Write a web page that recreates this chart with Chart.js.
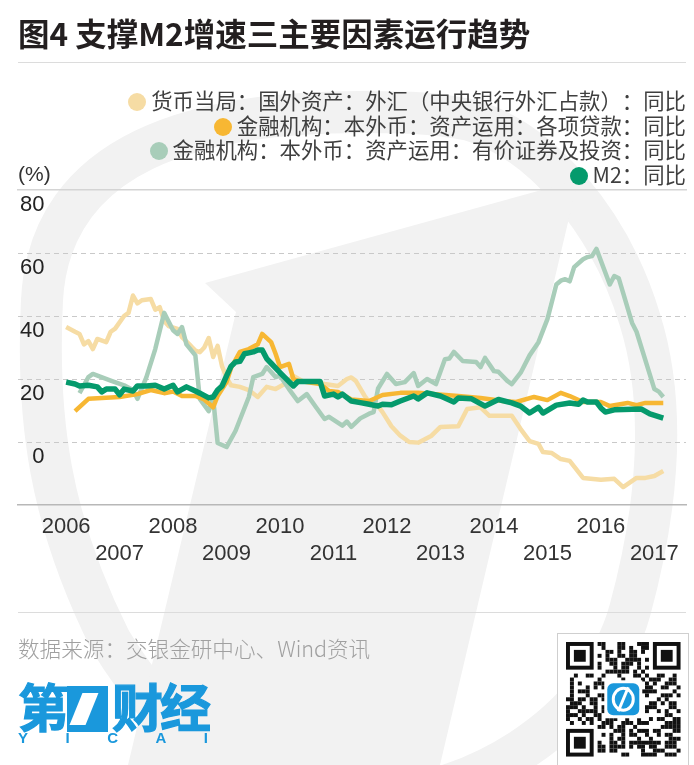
<!DOCTYPE html>
<html>
<head>
<meta charset="utf-8">
<script src="https://cdn.jsdelivr.net/npm/chart.js@4.4.0/dist/chart.umd.min.js"></script>
<style>
  html, body { margin: 0; padding: 0; background: #fff; }
  #page { position: relative; width: 694px; height: 765px; overflow: hidden;
          font-family: "Noto Sans CJK SC", "Noto Sans", sans-serif; text-spacing-trim: space-all; }
  #bg, #chart { position: absolute; left: 0; top: 0; }
  #title { position: absolute; left: 18px; top: 9px; font-size: 31.5px; font-weight: bold;
           color: #231f20; line-height: 46px; white-space: nowrap; }
  .rule { position: absolute; left: 18px; width: 668px; height: 1px; background: #dcdcdc; }
  #legend { position: absolute; right: 8px; top: 88px; text-align: right; font-size: 21.4px;
            line-height: 24.7px; color: #3f3f3f; }
  .item { white-space: nowrap; }
  .dot { display: inline-block; width: 18px; height: 18px; border-radius: 50%;
         margin-right: 5px; vertical-align: -2px; }
  #unit { position: absolute; left: 18px; top: 162px; font-size: 21px; color: #333;
          font-family: "Liberation Sans", Arial, sans-serif; }
  #source { position: absolute; left: 18px; top: 632px; font-size: 21.6px; color: #a0a0a0;
            white-space: nowrap; font-weight: 300; }
  #logo { position: absolute; left: 18px; top: 674px; color: #1a98dc; }
  #logo .cn { font-size: 51px; font-weight: bold; line-height: 62px; letter-spacing: -3px; white-space: nowrap;
              -webkit-text-stroke: 1.2px #1a98dc; }
  #logo .one { display: inline-block; position: relative; width: 41px; height: 46px; background: #1a98dc;
               vertical-align: -5px; margin: 0 4px 0 1px; }
  #logo .one::after { content: ""; position: absolute; left: 9px; top: 7px; width: 16px; height: 32px;
                      background: #fff; transform: skewX(-22deg); }
  #logo .en { display: flex; justify-content: space-between; width: 190px; font-family: "Liberation Sans", Arial;
              font-weight: bold; font-size: 15px; line-height: 14px; margin-top: -5px; }
  #qr { position: absolute; left: 557px; top: 633px; border: 1px solid #cfcfcf; background: #fff; }
</style>
</head>
<body>
<div id="page">
  <svg id="bg" width="694" height="765">
    <path d="M 360 112 C 200 112, 50 150, 42 300 C 36 420, 50 520, 110 640 C 170 740, 250 790, 330 800
             C 470 810, 600 720, 630 610 C 660 500, 665 400, 640 320 C 610 220, 540 140, 470 120
             C 430 112, 400 112, 360 112 Z" fill="none" stroke="#f2f2f2" stroke-width="42"/>
    <polygon points="205,283 578,180 440,765 128,765 236,312" fill="#f2f2f2"/>
  </svg>
  <canvas id="chart" width="694" height="765"></canvas>
  <div id="title">图4 支撑M2增速三主要因素运行趋势</div>
  <div class="rule" style="top:62px"></div>
  <div id="legend"></div>
  <div id="unit">(%)</div>
  <div class="rule" style="top:612px"></div>
  <div id="source">数据来源：交银金研中心、Wind资讯</div>
  <div id="logo">
    <div class="cn">第<span class="one"></span>财经</div>
    <div class="en"><span>Y</span><span>I</span><span>C</span><span>A</span><span>I</span></div>
  </div>
  <canvas id="qr" width="130" height="132"></canvas>
</div>
<script>
// series, monthly dates -> % y/y
const seriesLabels = [
  '货币当局：国外资产：外汇（中央银行外汇占款）：同比',
  '金融机构：本外币：资产运用：各项贷款：同比',
  '金融机构：本外币：资产运用：有价证券及投资：同比',
  'M2：同比'
];
const seriesColors = ['#f6dca4', '#f7b733', '#a8cdb9', '#059a6c'];

const fxDates = ['2006-01','2006-03','2006-04','2006-05','2006-06','2006-07','2006-08','2006-10','2006-11','2006-12',
  '2007-02','2007-03','2007-04','2007-05','2007-06','2007-08','2007-09','2007-10','2007-11','2007-12',
  '2008-02','2008-03','2008-05','2008-06','2008-07','2008-08','2008-09','2008-10','2008-11','2008-12',
  '2009-01','2009-02','2009-04','2009-06','2009-08','2009-10','2009-12','2010-02','2010-04','2010-06',
  '2010-09','2010-11','2011-02','2011-04','2011-05','2011-06','2011-08','2011-09','2011-11','2011-12',
  '2012-02','2012-04','2012-06','2012-08','2012-11','2013-01','2013-05','2013-07','2013-10','2013-12',
  '2014-05','2014-07','2014-09','2014-11','2014-12','2015-02','2015-04','2015-06','2015-09','2016-01',
  '2016-04','2016-06','2016-09','2016-11','2017-01','2017-03'];
const fxValues = [36.5,35,34.3,31,32,29.5,32.7,31.7,35,36,
  40,41,46.5,44,45,45.4,42,42.8,38.4,36.8,
  35.9,33.3,30.5,29,28.5,30,33,27,30.5,24,
  20.5,18,17.5,16.5,14.3,17.5,16.8,18.4,21,19.4,
  19,18.4,17.8,20,20.5,19.4,14.6,12.7,11.4,9.5,
  5,2,0,-0.2,2,4.8,5,10.5,11,8.3,
  8.3,4.1,0.3,-0.6,-3.2,-3.5,-5.4,-6,-11.4,-12,
  -11.7,-14.3,-11.4,-11.4,-10.8,-9.2];

const loanDates = ['2006-03','2006-06','2007-01','2007-05','2007-08','2007-11','2008-01','2008-03','2008-06','2008-08',
  '2008-10','2008-11','2008-12','2009-01','2009-02','2009-04','2009-06','2009-08','2009-09','2009-11',
  '2009-12','2010-01','2010-03','2010-04','2010-05','2010-10','2010-12','2011-02','2011-05','2011-09',
  '2011-12','2012-04','2012-08','2012-12','2013-05','2013-10','2014-03','2014-06','2014-10','2015-01',
  '2015-04','2015-06','2015-09','2016-01','2016-03','2016-07','2016-09','2016-11','2017-03'];
const loanValues = [9.8,13.7,14.3,15.2,16.5,15.5,16,14.6,14.6,13.5,
  11,14.6,16.8,19,23.5,28.6,29.5,31,34.3,31.7,
  28,23.8,24.8,20,19.4,18.4,16.2,15.9,13.5,13,
  14.9,15.6,15.6,15.2,14.6,14,13,12.7,14.3,13.3,
  15.6,14.6,12.7,12.7,11.4,12.4,11.7,12.4,12.4];

const secDates = ['2006-04','2006-06','2006-07','2006-11','2007-02','2007-04','2007-05','2007-07','2007-09','2007-11',
  '2008-01','2008-02','2008-03','2008-04','2008-06','2008-07','2008-09','2008-10','2008-11','2009-01',
  '2009-03','2009-06','2009-07','2009-09','2009-10','2009-12','2010-01','2010-03','2010-05','2010-07',
  '2010-09','2010-11','2010-12','2011-03','2011-04','2011-05','2011-07','2011-09','2011-10','2011-11',
  '2012-01','2012-03','2012-05','2012-07','2012-08','2012-10','2012-12','2013-02','2013-03','2013-04',
  '2013-06','2013-09','2013-10','2013-11','2014-01','2014-02','2014-04','2014-05','2014-07','2014-09',
  '2014-11','2015-01','2015-03','2015-04','2015-05','2015-06','2015-07','2015-09','2015-10','2015-11',
  '2015-12','2016-03','2016-04','2016-05','2016-08','2016-09','2017-01','2017-02','2017-03'];
const secValues = [15.5,20.6,21.6,19.5,18,16.5,13.7,20.5,29.5,41,
  35.5,34.3,36.5,31,27.5,13.7,9.8,13.7,-0.3,-1.6,
  3.5,14.3,20.6,21.6,23.8,20.6,21,16.8,13,15.2,
  11.2,7.3,8,5.2,6.5,4.8,7.5,9,9.5,17,
  21.6,18.4,19,21.9,17.8,20,18.4,26.3,26.5,28.6,
  25.7,25.4,23.8,26.7,22.5,22.3,19.4,18.4,22,27.5,
  31.7,39,50,51.2,51.7,51,55.5,58,58.7,59,
  61.3,50,52.7,52,37.8,35,16.8,16,14.3];

const m2Dates = ['2006-01','2006-03','2006-04','2006-06','2006-08','2006-09','2006-10','2006-12','2007-01','2007-02',
  '2007-04','2007-05','2007-07','2007-09','2007-11','2008-01','2008-02','2008-04','2008-06','2008-07',
  '2008-09','2008-10','2008-11','2008-12','2009-01','2009-02','2009-03','2009-04','2009-05','2009-06',
  '2009-07','2009-08','2009-09','2009-10','2009-11','2010-01','2010-02','2010-04','2010-05','2010-10',
  '2010-11','2011-01','2011-02','2011-03','2011-05','2011-07','2011-09','2011-11','2011-12','2012-02',
  '2012-04','2012-07','2012-08','2012-10','2013-01','2013-04','2013-05','2013-08','2013-11','2014-02',
  '2014-05','2014-07','2014-09','2014-11','2014-12','2015-03','2015-06','2015-08','2015-09','2015-10',
  '2015-12','2016-01','2016-02','2016-04','2016-10','2016-12','2017-03'];
const m2Values = [19,18.4,17.8,18,17.5,15.9,16.8,16.8,15,16.8,
  16.2,17.8,17.8,18,16.8,18,15.9,17.5,16.2,15.5,
  14,14.3,16.5,17.8,21,24,25.4,25.6,28,28.3,
  28.6,29.2,29.2,26.5,25,22,20.6,17.8,19.2,19.2,
  14.6,15.2,14.3,15.2,13,12.5,12,11.4,12,11.8,
  13,14.6,13.7,15.6,14.6,12.7,14,13.7,11.4,13.5,
  12.4,11.4,9.2,11,9.2,11.7,12.4,12,13.3,12.7,
  12.7,10.8,9.5,10.2,10.5,8.9,7.6];

const tickYears = ['2006','2007','2008','2009','2010','2011','2012','2013','2014','2015','2016','2017'];

function monthIndex(s) {
  const [y, m] = s.split('-').map(Number);
  return (y - 2006) * 12 + (m - 1);
}
function toPoints(dates, values) {
  return dates.map((d, i) => ({ x: monthIndex(d), y: values[i] }));
}

const allData = [toPoints(fxDates, fxValues), toPoints(loanDates, loanValues),
                 toPoints(secDates, secValues), toPoints(m2Dates, m2Values)];
const drawOrder = [3, 1, 2, 0];
const widths = [4.5, 4.5, 4.5, 5.5];

// html legend
const legendEl = document.getElementById('legend');
seriesLabels.forEach((lab, i) => {
  const row = document.createElement('div');
  row.className = 'item';
  row.innerHTML = '<span class="dot" style="background:' + seriesColors[i] + '"></span>' + lab;
  legendEl.appendChild(row);
});

const ctx = document.getElementById('chart').getContext('2d');
new Chart(ctx, {
  type: 'line',
  data: {
    datasets: seriesLabels.map((lab, i) => ({
      label: lab,
      data: allData[i],
      borderColor: seriesColors[i],
      borderWidth: widths[i],
      pointRadius: 0,
      tension: 0,
      fill: false,
      borderJoinStyle: 'round',
      order: drawOrder[i]
    }))
  },
  options: {
    responsive: false,
    animation: false,
    devicePixelRatio: 1,
    layout: { padding: { left: 18, right: 8, top: 190, bottom: 180 } },
    plugins: { legend: { display: false }, tooltip: { enabled: false } },
    scales: {
      x: {
        type: 'linear',
        min: -10.8,
        max: 139.1,
        afterBuildTicks: s => { s.ticks = tickYears.map((y, i) => ({ value: i * 12 })); },
        afterFit: s => { s.height = 80; },
        ticks: {
          autoSkip: false,
          maxRotation: 0,
          minRotation: 0,
          padding: 9,
          color: '#333',
          font: { family: 'Liberation Sans', size: 22 },
          callback: v => {
            const i = Math.round(v / 12);
            return i % 2 === 0 ? tickYears[i] : ['', tickYears[i]];
          }
        },
        grid: { display: false, drawTicks: false },
        border: { display: true, color: '#b8b8b8', width: 1.5 }
      },
      xTop: {
        type: 'linear',
        position: 'top',
        afterFit: s => { s.height = 0; },
        ticks: { display: false },
        grid: { display: false, drawTicks: false },
        border: { display: true, color: '#d4d4d4', width: 1.5 }
      },
      y: {
        min: -20,
        max: 80,
        afterFit: s => { s.width = 0; },
        ticks: {
          stepSize: 20,
          mirror: true,
          crossAlign: 'far',
          padding: 2,
          labelOffset: 15,
          color: '#222',
          font: { family: 'Liberation Sans', size: 22 },
          callback: v => (v === -20 ? '' : String(v))
        },
        grid: {
          drawTicks: false,
          color: c => (c.tick && (c.tick.value === 80 || c.tick.value === -20)) ? 'rgba(0,0,0,0)' : '#c9c9c9'
        },
        border: { display: false, dash: [5, 4] }
      }
    }
  }
});

// qr-like decoration
(function () {
  const c = document.getElementById('qr').getContext('2d');
  const n = 29, cell = 3.95, ox = 8, oy = 8;
  c.fillStyle = '#111';
  function hash(r, k) {
    let h = Math.imul(r + 11, 374761393) + Math.imul(k + 7, 668265263);
    h = Math.imul(h ^ (h >>> 13), 1274126177);
    return (h ^ (h >>> 16)) & 3;
  }
  function finder(r0, k0) {
    c.fillRect(ox + k0 * cell, oy + r0 * cell, 7 * cell, 7 * cell);
    c.fillStyle = '#fff';
    c.fillRect(ox + (k0 + 1) * cell, oy + (r0 + 1) * cell, 5 * cell, 5 * cell);
    c.fillStyle = '#111';
    c.fillRect(ox + (k0 + 2) * cell, oy + (r0 + 2) * cell, 3 * cell, 3 * cell);
  }
  for (let r = 0; r < n; r++) {
    for (let k = 0; k < n; k++) {
      const inFinder = (r < 8 && k < 8) || (r < 8 && k > n - 9) || (r > n - 9 && k < 8);
      if (inFinder) continue;
      if (hash(r, k) < 2) c.fillRect(ox + k * cell, oy + r * cell, cell, cell);
    }
  }
  finder(0, 0); finder(0, n - 7); finder(n - 7, 0);
  const cx = ox + n * cell / 2, cy = oy + n * cell / 2;
  c.fillStyle = '#fff';
  c.fillRect(cx - 19, cy - 19, 38, 38);
  c.fillStyle = '#1a98dc';
  c.beginPath();
  c.roundRect(cx - 16, cy - 16, 32, 32, 6);
  c.fill();
  c.strokeStyle = '#fff';
  c.lineWidth = 3;
  c.beginPath();
  c.ellipse(cx, cy, 10, 11, 0, 0, Math.PI * 2);
  c.stroke();
  c.beginPath();
  c.moveTo(cx + 5, cy - 12);
  c.lineTo(cx - 5, cy + 12);
  c.stroke();
})();
</script>
</body>
</html>
